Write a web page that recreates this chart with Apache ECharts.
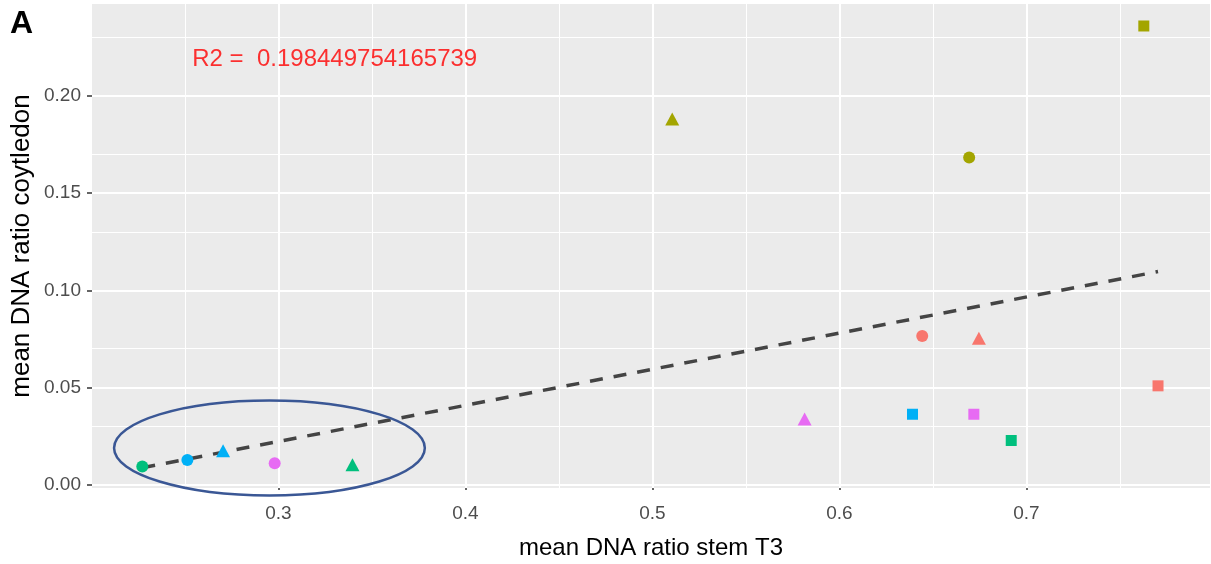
<!DOCTYPE html>
<html>
<head>
<meta charset="utf-8">
<script src="https://cdn.jsdelivr.net/npm/echarts@6/dist/echarts.min.js"></script>
<style>
  html, body { margin: 0; padding: 0; background: #fff; }
  #chart { width: 1211px; height: 564px; }
</style>
</head>
<body>
<div id="chart"></div>
<script>
// groups in ggplot hue order: red, olive, green, blue, magenta
const groupColors = ["#F8766D", "#A3A500", "#00BF7D", "#00B0F6", "#E76BF3"];
const stemCircle = [0.6443, 0.6694, 0.2272, 0.2513, 0.2980];
const cotCircle = [0.0765, 0.1682, 0.0094, 0.0128, 0.0111];
const stemTriangle = [0.6746, 0.5106, 0.3396, 0.2704, 0.5814];
const cotTriangle = [0.0754, 0.1880, 0.0103, 0.0175, 0.0339];
const stemSquare = [0.7704, 0.7628, 0.6919, 0.6391, 0.6719];
const cotSquare = [0.0509, 0.2358, 0.0228, 0.0363, 0.0363];

// lm fit endpoints and the highlight ellipse (cx, cy, rx, ry in data units)
const fitStem = [0.2272, 0.7704];
const fitCot = [0.0088, 0.1096];
const ellipse = [0.2952, 0.0190, 0.0831, 0.0244];
const r2Text = "R2 =  0.198449754165739";
const r2Pos = [0.3301, 0.2185];

const xTicks = [0.3, 0.4, 0.5, 0.6, 0.7];
const xMinor = [0.25, 0.35, 0.45, 0.55, 0.65, 0.75];
const yTicks = [0, 0.05, 0.10, 0.15, 0.20];
const yMinor = [0.025, 0.075, 0.125, 0.175, 0.225];
const xRange = [0.2003, 0.7982];
const yRange = [-0.0016, 0.2471];

const FONT = "'Liberation Sans', Arial, sans-serif";

function points(xs, ys) {
  return xs.map((x, i) => ({ value: [x, ys[i]], itemStyle: { color: groupColors[i], opacity: 1 } }));
}

function gridLines(values, key, width) {
  return values.map(v => ({ [key]: v, lineStyle: { color: "#fff", width: width, type: "solid" } }));
}

const chart = echarts.init(document.getElementById("chart"), null, { renderer: "canvas" });
chart.setOption({
  animation: false,
  grid: {
    left: 92, right: 1, top: 4, bottom: 76, outerBoundsMode: "none", containLabel: false,
    show: true, backgroundColor: "#EBEBEB", borderWidth: 0
  },
  graphic: [{
    type: "text", left: 10, top: 8,
    style: { text: "A", font: "bold 32px " + FONT, fill: "#000" }
  }],
  xAxis: {
    type: "value", min: xRange[0], max: xRange[1],
    name: "mean DNA ratio stem T3", nameLocation: "middle", nameGap: 48, nameMoveOverlap: false,
    nameTextStyle: { fontFamily: FONT, fontSize: 24, color: "#000" },
    axisLine: { show: false },
    axisTick: { show: true, customValues: xTicks, length: 5, lineStyle: { color: "#333", width: 1.5 } },
    axisLabel: { customValues: xTicks, margin: 16, fontFamily: FONT, fontSize: 19, color: "#4D4D4D", formatter: v => v.toFixed(1) },
    splitLine: { show: false }
  },
  yAxis: {
    type: "value", min: yRange[0], max: yRange[1],
    name: "mean DNA ratio coytledon", nameLocation: "middle", nameGap: 57, nameRotate: 90, nameMoveOverlap: false,
    nameTextStyle: { fontFamily: FONT, fontSize: 26, color: "#000" },
    axisLine: { show: false },
    axisTick: { show: true, customValues: yTicks, length: 5, lineStyle: { color: "#333", width: 1.5 } },
    axisLabel: { customValues: yTicks, margin: 11, fontFamily: FONT, fontSize: 19, color: "#4D4D4D", formatter: v => v.toFixed(2) },
    splitLine: { show: false }
  },
  series: [
    {
      type: "line", data: [], z: 1, silent: true,
      markLine: {
        z: 1, silent: true, symbol: "none", label: { show: false }, animation: false,
        data: [].concat(
          gridLines(xMinor, "xAxis", 1), gridLines(yMinor, "yAxis", 1),
          gridLines(xTicks, "xAxis", 2), gridLines(yTicks, "yAxis", 2)
        )
      }
    },
    {
      type: "line", z: 3, silent: true, symbol: "none",
      data: fitStem.map((x, i) => [x, fitCot[i]]),
      lineStyle: { color: "#444", width: 3.5, type: [13, 11] }
    },
    { type: "scatter", z: 4, symbol: "circle", symbolSize: 12, data: points(stemCircle, cotCircle) },
    { type: "scatter", z: 4, symbol: "triangle", symbolSize: [14, 13], data: points(stemTriangle, cotTriangle) },
    { type: "scatter", z: 4, symbol: "rect", symbolSize: 11, data: points(stemSquare, cotSquare) },
    {
      type: "scatter", z: 6, symbolSize: 0, silent: true, data: [r2Pos],
      label: { show: true, position: "inside", formatter: r2Text, fontFamily: FONT, fontSize: 24, color: "#FF0000" }
    },
    {
      type: "custom", z: 7, clip: false, silent: true, data: [ellipse],
      renderItem: (params, api) => {
        const c = api.coord([api.value(0), api.value(1)]);
        const rx = api.size([api.value(2), 0])[0];
        const ry = api.size([0, api.value(3)])[1];
        return {
          type: "ellipse",
          shape: { cx: c[0], cy: c[1], rx: rx, ry: ry },
          style: { fill: "none", stroke: "#3A5795", lineWidth: 2.5 }
        };
      }
    }
  ]
});
</script>
</body>
</html>
